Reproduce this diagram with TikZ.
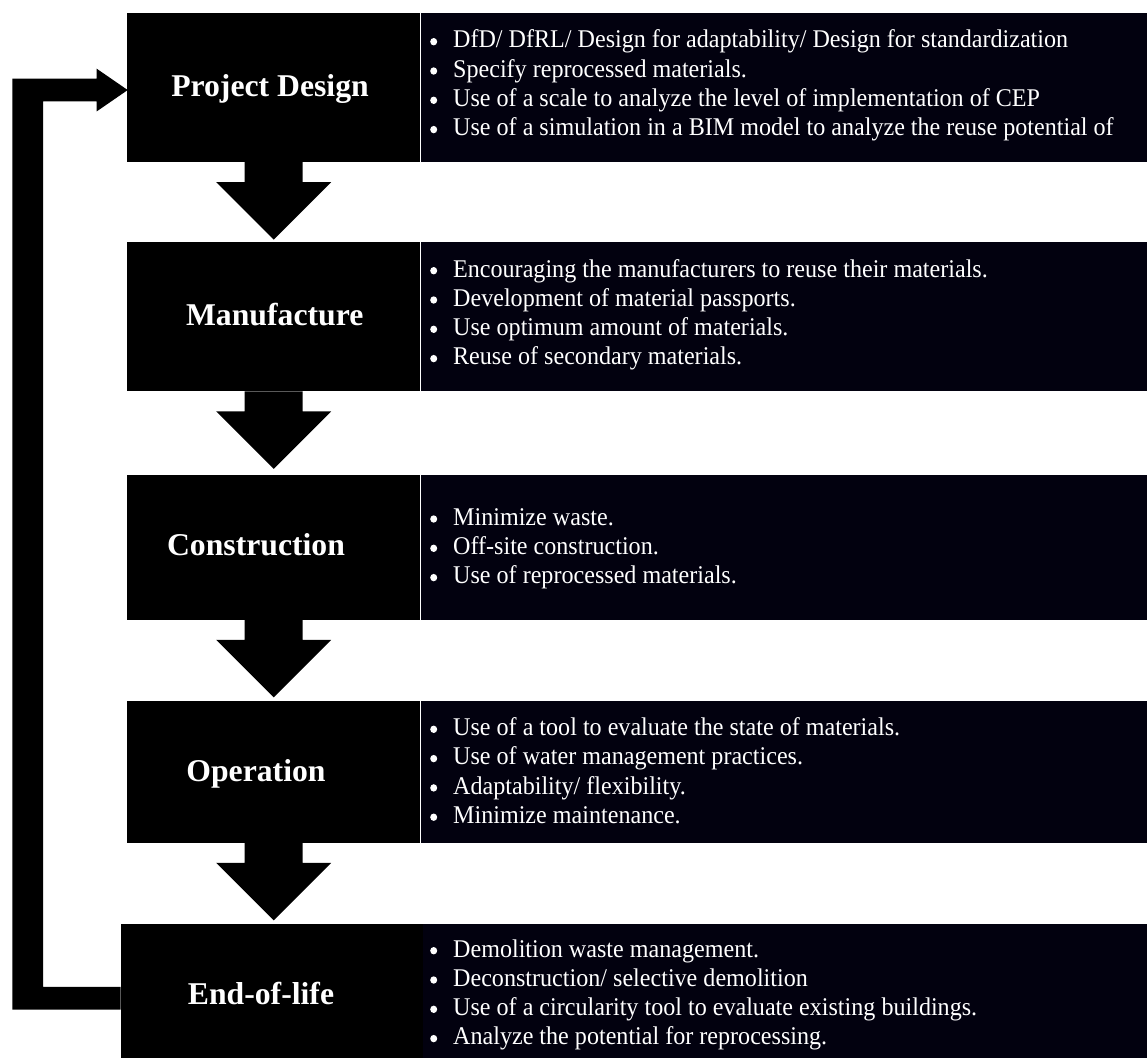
\documentclass[tikz,border=0pt]{standalone}
\usepackage{fontspec}
\usepackage{graphicx}
\setmainfont{Liberation Serif}
\usetikzlibrary{calc}
\definecolor{panelnavy}{RGB}{2,1,15}

% round bullet, centred a little above the baseline
\newcommand\dotmark{\tikz[baseline={(0,-6.3pt)}]\fill[white] (3.7pt,0) circle (3.7pt);}
% bulleted list set in slightly narrowed Times-like type
\newcommand\itm[1]{\makebox[24.3pt][l]{\dotmark}#1\\}
\newcommand\bulletlist[1]{\scalebox{0.945}[1]{\fontsize{25.5pt}{29.3pt}\selectfont\begin{tabular}[t]{@{}l@{}}#1\end{tabular}}}

% block arrow pointing down from one stage to the next
\newcommand\flowarrow[2]{%
  \fill let \p1=(#1.south), \p2=(#2.north) in
    (\x1-29pt,\y1) -- (\x1+29pt,\y1) -- (\x1+29pt,\y1-20pt)
    -- (\x1+57.5pt,\y1-20pt) -- (\x1,\y1-77.5pt) -- (\x1-57.5pt,\y1-20pt)
    -- (\x1-29pt,\y1-20pt) -- cycle;}

\tikzset{
  stagebox/.style={rectangle, fill=black, inner sep=0pt, anchor=north west,
    minimum width=293pt},
  panel/.style={rectangle, fill=panelnavy, inner sep=0pt, anchor=north west,
    minimum width=727pt},
  stagetitle/.style={anchor=base, inner sep=0pt, text=white,
    font=\fontsize{31.7pt}{36pt}\selectfont\bfseries},
  items/.style={anchor=base west, inner sep=0pt, text=white}
}

\begin{document}
\begin{tikzpicture}[x=1pt,y=1pt]
\useasboundingbox (0,0) rectangle (1147,-1057);
\clip (0,0) rectangle (1147,-1057);

% stage boxes
\node[stagebox, minimum height=148.7pt] (pd) at (127,-13) {};
\node[panel, minimum height=148.7pt] (pdp) at (pd.north east) {};
\node[stagebox, minimum height=149pt] (mf) at (127,-242) {};
\node[panel, minimum height=149pt] (mfp) at (mf.north east) {};
\node[stagebox, minimum height=145.2pt] (cs) at (127,-474.3) {};
\node[panel, minimum height=145.2pt] (csp) at (cs.north east) {};
\node[stagebox, minimum height=141.5pt] (op) at (127,-701) {};
\node[panel, minimum height=141.5pt] (opp) at (op.north east) {};
\node[stagebox, minimum width=302pt, minimum height=148pt] (eol) at (120.7,-924) {};
\node[panel, minimum width=724.3pt, minimum height=148pt] (eolp) at (eol.north east) {};

% stage titles
\node[stagetitle] (pdt) at (270,-96.7) {Project Design};
\node[stagetitle] (mft) at (274.7,-325.7) {Manufacture};
\node[stagetitle] (cst) at (256,-555) {Construction};
\node[stagetitle] (opt) at (256,-781) {Operation};
\node[stagetitle] (eolt) at (261,-1004) {End-of-life};

% practices of each stage
\node[items] (pdl) at (430,-48) {\bulletlist{%
  \itm{DfD/ DfRL/ Design for adaptability/ Design for standardization}
  \itm{Specify reprocessed materials.}
  \itm{Use of a scale to analyze the level of implementation of CEP}
  \itm{Use of a simulation in a BIM model to analyze the reuse potential of}}};
\node[items] (mfl) at (430,-277) {\bulletlist{%
  \itm{Encouraging the manufacturers to reuse their materials.}
  \itm{Development of material passports.}
  \itm{Use optimum amount of materials.}
  \itm{Reuse of secondary materials.}}};
\node[items] (csl) at (430,-525.3) {\bulletlist{%
  \itm{Minimize waste.}
  \itm{Off-site construction.}
  \itm{Use of reprocessed materials.}}};
\node[items] (opl) at (430,-735.6) {\bulletlist{%
  \itm{Use of a tool to evaluate the state of materials.}
  \itm{Use of water management practices.}
  \itm{Adaptability/ flexibility.}
  \itm{Minimize maintenance.}}};
\node[items] (eoll) at (430,-957) {\bulletlist{%
  \itm{Demolition waste management.}
  \itm{Deconstruction/ selective demolition}
  \itm{Use of a circularity tool to evaluate existing buildings.}
  \itm{Analyze the potential for reprocessing.}}};

% flow between stages
\flowarrow{pd}{mf}
\flowarrow{mf}{cs}
\flowarrow{cs}{op}
\flowarrow{op}{eol}

% feedback loop from end-of-life back to design
\fill let \p1=(eol.west), \p2=(pd.west) in
  (\x1,\y1+11.35pt) -- (43pt,\y1+11.35pt) -- (43pt,\y2-13.85pt)
  -- (96.7pt,\y2-13.85pt) -- (96.7pt,\y2-23.85pt) -- (\x2+0.7pt,\y2-2.5pt)
  -- (96.7pt,\y2+18.85pt) -- (96.7pt,\y2+8.85pt) -- (12.3pt,\y2+8.85pt)
  -- (12.3pt,\y1-11.35pt) -- (\x1,\y1-11.35pt) -- cycle;
\end{tikzpicture}
\end{document}
